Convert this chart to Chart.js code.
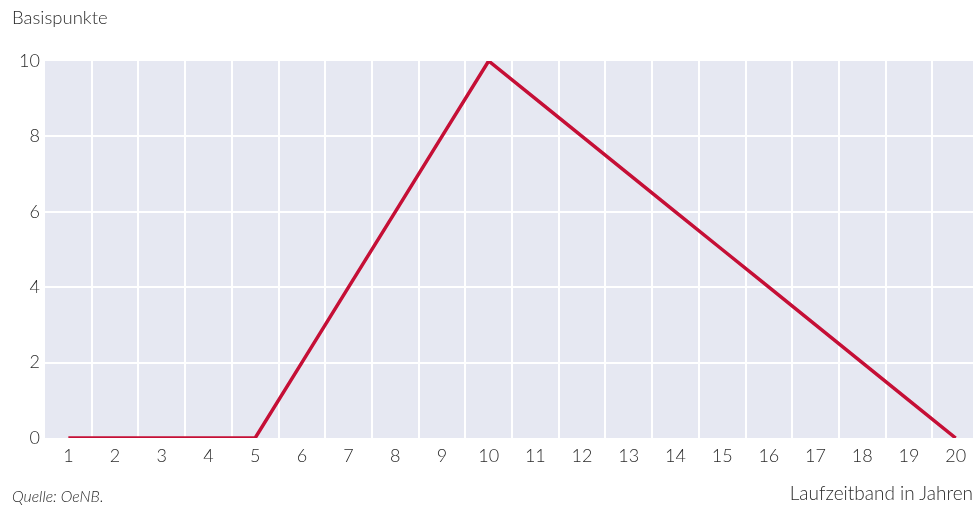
<!DOCTYPE html>
<html>
<head>
<meta charset="utf-8">
<script src="https://cdn.jsdelivr.net/npm/chart.js@4.4.1/dist/chart.umd.min.js"></script>
<style>
  html, body { margin: 0; padding: 0; background: #fff; overflow: hidden; }
  #wrap { position: relative; width: 975px; height: 506px; font-family: Lato, "Open Sans", sans-serif; font-weight: 300; color: #2b2b2b; overflow: hidden; }
  #chart { position: absolute; left: 0; top: 0; }
  .lbl { position: absolute; white-space: nowrap; }
  #ytitle { left: 12px; top: 6px; font-size: 18.5px; }
  #xtitle { right: 2px; top: 481px; font-size: 19px; }
  #quelle { left: 12px; top: 486px; font-size: 15.8px; font-style: italic; }
</style>
</head>
<body>
<div id="wrap">
  <canvas id="chart" width="979" height="506"></canvas>
  <div class="lbl" id="ytitle">Basispunkte</div>
  <div class="lbl" id="xtitle">Laufzeitband in Jahren</div>
  <div class="lbl" id="quelle">Quelle: OeNB.</div>
</div>
<script>
// Laufzeitbänder (Jahre)
const laufzeit = ['1', '2', '3', '4', '5', '6', '7', '8', '9', '10',
                  '11', '12', '13', '14', '15', '16', '17', '18', '19', '20'];

// Basispunkte je Laufzeitband
const basispunkte = [0, 0, 0, 0, 0, 2, 4, 6, 8, 10,
                     9, 8, 7, 6, 5, 4, 3, 2, 1, 0];

// Y-Achse
const yMin = 0;
const yMax = 10;
const yStep = 2;

const tickFont = { family: 'Lato', size: 18, weight: 300 };

// Hintergrund der Zeichenfläche (rechts abgeschnitten wie im Original)
const plotBg = {
    id: 'plotBg',
    beforeDraw(chart) {
        const { ctx, chartArea } = chart;
        const right = Math.min(chartArea.right, 973);
        ctx.save();
        ctx.fillStyle = '#e6e8f2';
        ctx.fillRect(chartArea.left, chartArea.top, right - chartArea.left, chartArea.bottom - chartArea.top);
        ctx.restore();
    }
};

const ctx = document.getElementById('chart').getContext('2d');
new Chart(ctx, {
    type: 'line',
    data: {
        labels: laufzeit,
        datasets: [{
            data: basispunkte,
            borderColor: '#c50f36',
            borderWidth: 3.5,
            borderJoinStyle: 'miter',
            pointRadius: 0,
            tension: 0,
            fill: false
        }]
    },
    options: {
        responsive: false,
        animation: false,
        layout: { padding: { top: 61, right: 0, left: 0, bottom: 0 } },
        plugins: { legend: { display: false }, tooltip: { enabled: false } },
        scales: {
            x: {
                offset: true,
                border: { display: false },
                grid: {
                    offset: true,
                    drawTicks: false,
                    lineWidth: 2,
                    color: c => (c.index === 0 || c.index === laufzeit.length) ? 'rgba(0,0,0,0)' : '#ffffff'
                },
                ticks: {
                    color: '#2b2b2b',
                    font: tickFont,
                    padding: 7,
                    maxRotation: 0,
                    autoSkip: false
                },
                afterFit: s => { s.height = 68; }
            },
            y: {
                min: yMin,
                max: yMax,
                border: { display: false },
                grid: {
                    drawTicks: false,
                    lineWidth: 2,
                    color: c => (c.tick.value === yMin || c.tick.value === yMax) ? 'rgba(0,0,0,0)' : '#ffffff'
                },
                ticks: {
                    stepSize: yStep,
                    color: '#2b2b2b',
                    font: tickFont,
                    padding: 5
                },
                afterFit: s => { s.width = 45; }
            }
        }
    },
    plugins: [plotBg]
});
</script>
</body>
</html>
